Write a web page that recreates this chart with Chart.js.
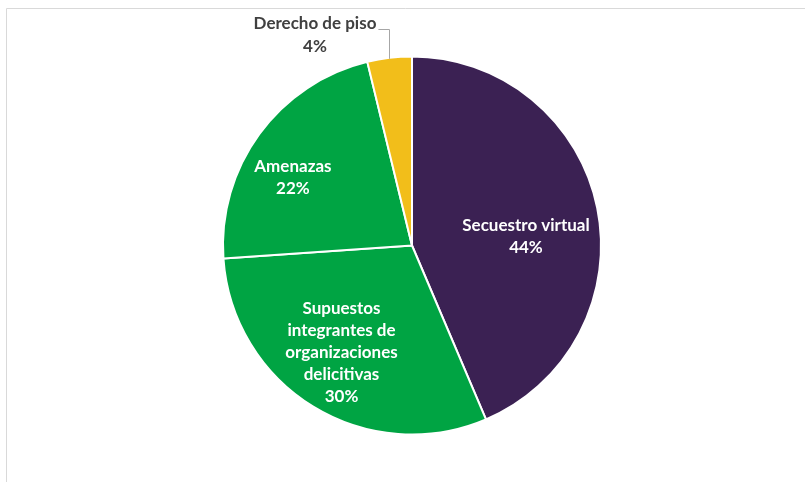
<!DOCTYPE html>
<html>
<head>
<meta charset="utf-8">
<script src="https://cdn.jsdelivr.net/npm/chart.js@4"></script>
<style>
html,body{margin:0;padding:0;background:#fff;}
#wrap{width:805px;height:482px;position:relative;}
</style>
</head>
<body>
<div id="wrap"><canvas id="c" width="805" height="482"></canvas></div>
<script>
const categories = ["Secuestro virtual", "Supuestos integrantes de organizaciones delicitivas", "Amenazas", "Derecho de piso"];
const labelLines = [["Secuestro virtual"], ["Supuestos", "integrantes de", "organizaciones", "delicitivas"], ["Amenazas"], ["Derecho de piso"]];
const values = [43.6, 30.3, 22.3, 3.8];
const percentLabels = ["44%", "30%", "22%", "4%"];
const colors = ["#3B2153", "#00A443", "#00A443", "#F2BE1A"];

const frame = {
  id: 'frame',
  beforeDraw(chart) {
    const ctx = chart.ctx;
    ctx.save();
    ctx.strokeStyle = '#d9d9d9';
    ctx.lineWidth = 1;
    ctx.beginPath();
    ctx.moveTo(6.5, 482); ctx.lineTo(6.5, 8.5); ctx.lineTo(805, 8.5);
    ctx.stroke();
    ctx.restore();
  }
};

const labelsPlugin = {
  id: 'pieLabels',
  afterDatasetsDraw(chart) {
    const ctx = chart.ctx;
    const meta = chart.getDatasetMeta(0);
    // label centre offsets from pie centre, as fractions of radius
    const offs = [[0.603, -0.048], [-0.373, 0.566], [-0.630, -0.360]];
    const lh = 22.2;
    ctx.save();
    ctx.font = 'bold 17px Lato, "Open Sans", sans-serif';
    ctx.textAlign = 'center';
    ctx.textBaseline = 'middle';
    meta.data.forEach((arc, i) => {
      const p = arc.getProps(['x','y','startAngle','endAngle','outerRadius'], true);
      const lines = labelLines[i].concat([percentLabels[i]]);
      if (i < 3) {
        const cx = p.x + offs[i][0] * p.outerRadius;
        const cy = p.y + offs[i][1] * p.outerRadius;
        ctx.fillStyle = '#ffffff';
        const y0 = cy - (lines.length - 1) * lh / 2;
        lines.forEach((t, k) => ctx.fillText(t, cx, y0 + k * lh));
      } else {
        const mid = (p.startAngle + p.endAngle) / 2;
        const ex = p.x + Math.cos(mid) * p.outerRadius;
        const ey = p.y + Math.sin(mid) * p.outerRadius;
        const tx = p.x - 97;
        const ty = p.y - p.outerRadius - 21;
        ctx.fillStyle = '#404040';
        ctx.fillText(lines[0], tx, ty - 11.5);
        ctx.fillText(lines[1], tx, ty + 11.5);
        const w = ctx.measureText(lines[0]).width;
        ctx.strokeStyle = '#a6a6a6';
        ctx.lineWidth = 1;
        ctx.beginPath();
        const lx = Math.round(ex) + 0.5;
        ctx.moveTo(tx + w / 2 + 2, Math.round(ty - 7) + 0.5);
        ctx.lineTo(lx, Math.round(ty - 7) + 0.5);
        ctx.lineTo(lx, ey + 1);
        ctx.stroke();
      }
    });
    ctx.restore();
  }
};

new Chart(document.getElementById('c'), {
  type: 'pie',
  data: {
    labels: categories,
    datasets: [{
      data: values,
      backgroundColor: colors,
      borderColor: '#ffffff',
      borderWidth: 2
    }]
  },
  options: {
    responsive: false,
    animation: false,
    layout: { padding: { left: 222, right: 203, top: 55, bottom: 46 } },
    plugins: { legend: { display: false }, tooltip: { enabled: false } }
  },
  plugins: [frame, labelsPlugin]
});
</script>
</body>
</html>
